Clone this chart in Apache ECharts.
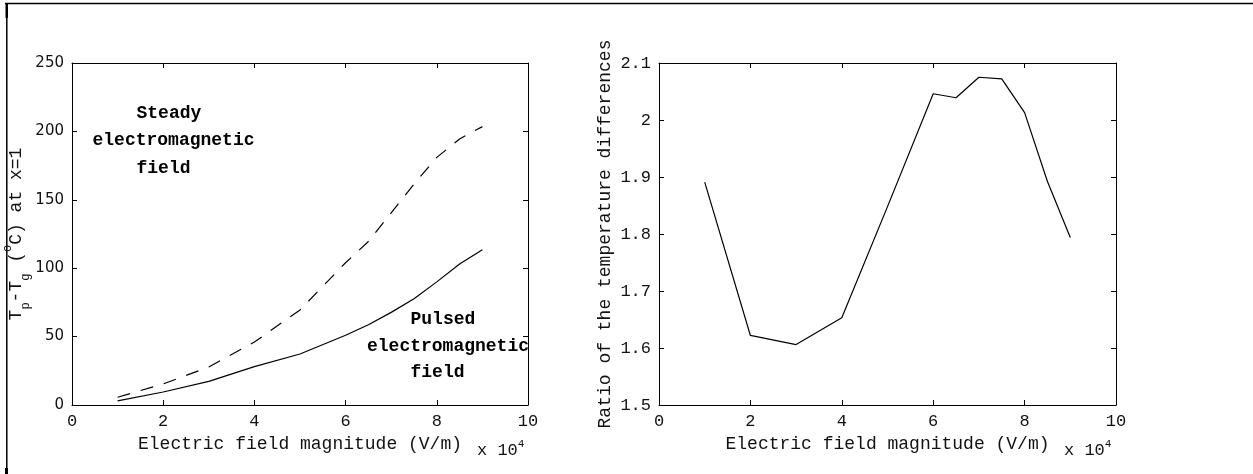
<!DOCTYPE html>
<html>
<head>
<meta charset="utf-8">
<title>Temperature difference vs electric field</title>
<script src="https://cdn.jsdelivr.net/npm/echarts@6/dist/echarts.min.js"></script>
<style>
  html, body { margin: 0; padding: 0; background: #fff; }
  #chart { width: 1253px; height: 474px; }
</style>
</head>
<body>
<div id="chart"></div>
<script>
// electric field magnitude, units of 1e4 V/m
const efield = [1, 2, 3, 4, 5, 6, 6.5, 7, 7.5, 8, 8.5, 9]
// Tp - Tg at x=1 (deg C)
const steadyTemp = [5.7, 15.4, 27.8, 46, 69.5, 104, 119.5, 140.5, 161.5, 181, 194.5, 203.5]
const pulsedTemp = [3, 9.5, 17.3, 28, 37.3, 51, 58.7, 67.7, 77.7, 90, 103, 113.5]
// ratio of the temperature differences
const tempRatio = [1.891, 1.622, 1.606, 1.653, 1.848, 2.046, 2.039, 2.075, 2.072, 2.013, 1.892, 1.794]

const MONO = 'Liberation Mono'
const INK = '#111'

const pairs = (xs, ys) => xs.map((x, i) => [x, ys[i]])

// 边框坐标轴（MATLAB 风格的四边框）
const boxX = (grid, pos, show) => ({
  type: 'value',
  gridIndex: grid,
  position: pos,
  min: 0,
  max: 10,
  interval: 2,
  axisLine: { show: true, onZero: false, lineStyle: { color: '#000', width: 1 } },
  axisTick: { show: true, inside: true, length: 5, lineStyle: { color: '#000' } },
  axisLabel: { show: show, margin: 8, color: INK, fontFamily: MONO, fontSize: 17 },
  splitLine: { show: false }
})
const boxY = (grid, pos, min, max, step, label) => ({
  type: 'value',
  gridIndex: grid,
  position: pos,
  min: min,
  max: max,
  interval: step,
  axisLine: { show: true, onZero: false, lineStyle: { color: '#000', width: 1 } },
  axisTick: { show: true, inside: true, length: 5, lineStyle: { color: '#000' } },
  axisLabel: label ? Object.assign({ show: true, margin: 8, color: INK }, label) : { show: false },
  splitLine: { show: false }
})

const xName = {
  name: 'Electric field magnitude (V/m)',
  nameLocation: 'middle',
  nameGap: 27,
  nameTextStyle: { fontFamily: MONO, fontSize: 18, color: INK }
}

const xBottomLeft = Object.assign(boxX(0, 'bottom', true), xName)
const xBottomRight = Object.assign(boxX(1, 'bottom', true), xName)

const yLeft = Object.assign(
  boxY(0, 'left', 0, 250, 50, { fontFamily: 'DejaVu Sans', fontSize: 15 }),
  {
    name: '{m|T}{s|p}{m|-T}{s|g}{m| (}{o|o}{m|C) at x=1}',
    nameLocation: 'middle',
    nameRotate: 90,
    nameGap: 40,
    nameTextStyle: {
      color: INK,
      rich: {
        m: { fontFamily: MONO, fontSize: 18, color: INK, lineHeight: 30, verticalAlign: 'middle' },
        s: { fontFamily: MONO, fontSize: 12, color: INK, lineHeight: 10, verticalAlign: 'bottom' },
        o: { fontFamily: MONO, fontSize: 12, color: INK, lineHeight: 20, verticalAlign: 'top' }
      }
    }
  }
)
const yRight = Object.assign(
  boxY(1, 'left', 1.5, 2.1, 0.1, { fontFamily: MONO, fontSize: 17 }),
  {
    name: 'Ratio of the temperature differences',
    nameLocation: 'middle',
    nameRotate: 90,
    nameGap: 45,
    nameTextStyle: { fontFamily: MONO, fontSize: 18, color: INK }
  }
)

const annot = (x, y, text) => ({
  type: 'text',
  x: x,
  y: y,
  silent: true,
  style: {
    text: text,
    fill: '#000',
    font: 'bold 18px "Liberation Mono"',
    align: 'left',
    verticalAlign: 'middle'
  }
})
const scale = (x) => ({
  type: 'text',
  x: x,
  y: 450,
  silent: true,
  style: {
    text: '{a|x 10}{b|4}',
    rich: {
      a: { fontFamily: MONO, fontSize: 17, fill: INK, lineHeight: 22, verticalAlign: 'middle' },
      b: { fontFamily: MONO, fontSize: 11, fill: INK, lineHeight: 14, verticalAlign: 'top' }
    },
    align: 'left',
    verticalAlign: 'middle'
  }
})

const myChart = echarts.init(document.getElementById('chart'))
const option = {
  animation: false,
  backgroundColor: '#fff',
  grid: [
    { left: 72, top: 63, width: 456, height: 342 },
    { left: 659, top: 63, width: 457, height: 342 }
  ],
  xAxis: [xBottomLeft, boxX(0, 'top', false), xBottomRight, boxX(1, 'top', false)],
  yAxis: [
    yLeft,
    boxY(0, 'right', 0, 250, 50, null),
    yRight,
    boxY(1, 'right', 1.5, 2.1, 0.1, null)
  ],
  series: [
    {
      name: 'Steady',
      type: 'line',
      xAxisIndex: 0,
      yAxisIndex: 0,
      data: pairs(efield, steadyTemp),
      showSymbol: false,
      lineStyle: { color: '#000', width: 1.2, type: [13, 11] }
    },
    {
      name: 'Pulsed',
      type: 'line',
      xAxisIndex: 0,
      yAxisIndex: 0,
      data: pairs(efield, pulsedTemp),
      showSymbol: false,
      lineStyle: { color: '#000', width: 1.2 }
    },
    {
      name: 'Ratio',
      type: 'line',
      xAxisIndex: 2,
      yAxisIndex: 2,
      data: pairs(efield, tempRatio),
      showSymbol: false,
      lineStyle: { color: '#000', width: 1.2 }
    }
  ],
  graphic: [
    annot(136.5, 113.3, 'Steady'),
    annot(92.5, 140.7, 'electromagnetic'),
    annot(136.5, 168.3, 'field'),
    annot(410.5, 319, 'Pulsed'),
    annot(367, 346.5, 'electromagnetic'),
    annot(410.5, 372.7, 'field'),
    scale(477),
    scale(1064),
    // 图片外框
    { type: 'line', silent: true, shape: { x1: 5, y1: 3.5, x2: 1253, y2: 3.5 }, style: { stroke: '#000', lineWidth: 1.7 } },
    { type: 'line', silent: true, shape: { x1: 6.8, y1: 3, x2: 6.8, y2: 474 }, style: { stroke: '#000', lineWidth: 1.5 } },
    { type: 'rect', silent: true, shape: { x: 5.5, y: 3, width: 2.5, height: 15 }, style: { fill: '#000' } },
    { type: 'rect', silent: true, shape: { x: 5, y: 468, width: 3, height: 6 }, style: { fill: '#000' } }
  ]
}
myChart.setOption(option)
</script>
</body>
</html>
